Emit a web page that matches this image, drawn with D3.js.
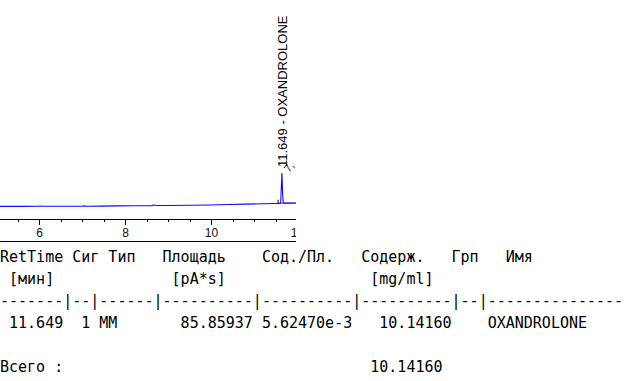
<!DOCTYPE html>
<html>
<head>
<meta charset="utf-8">
<script src="https://cdn.jsdelivr.net/npm/d3@7"></script>
<style>
  body { margin: 0; background: #fff; }
  svg { display: block; }
  .tbl { font-family: "DejaVu Sans Mono", monospace; font-size: 15px; white-space: pre; fill: #000; }
  .axis text { font-family: "Liberation Sans", Arial, sans-serif; font-size: 12px; fill: #111; }
</style>
</head>
<body>
<div class="chart"></div>
<script>
// chromatogram trace (time in min, signal in pA)
var times   = [5.0, 5.6, 5.98, 6.02, 6.06, 6.5, 7.02, 7.06, 7.1, 7.5, 7.8, 8.2, 8.62, 8.67, 8.72, 9.0, 9.5, 10.0, 10.4, 10.8, 11.2, 11.5, 11.6, 11.62, 11.635, 11.649, 11.665, 11.68, 11.75, 11.9, 12.0];
var signal  = [5.75, 5.76, 5.8, 5.95, 5.8, 5.8, 5.85, 6.0, 5.85, 5.9, 6.0, 6.05, 6.1, 6.4, 6.15, 6.15, 6.25, 6.4, 6.6, 6.8, 6.95, 7.1, 7.15, 7.3, 14.0, 21.0, 12.0, 7.3, 7.25, 7.3, 7.3];

// integration baseline of the peak
var baseStart = 11.56;
var baseEnd = 12.1;
var baseLevel = 7.2;

// axis ticks
var majorTicks = [6, 8, 10, 12];
var minorTicks = [5.5, 6.5, 7, 7.5, 8.5, 9, 9.5, 10.5, 11, 11.5];

// peak report
var peakLabel = "11.649 - OXANDROLONE";
var headerLines = [
  "RetTime Сиг Тип   Площадь    Сод./Пл.   Содерж.   Грп   Имя",
  " [мин]             [pA*s]                [mg/ml]"
];
var colWidths = [7, 2, 6, 10, 10, 10, 2, 15];
var retTime = ["11.649"];
var sig = ["1"];
var peakType = ["MM"];
var area = ["85.85937"];
var amtPerArea = ["5.62470e-3"];
var amount = ["10.14160"];
var grp = [""];
var names = ["OXANDROLONE"];
var totalLabel = "Всего :";
var totalAmount = "10.14160";

var svgWidth = 640;
var svgHeight = 381;

var svg = d3.select(".chart")
  .append("svg")
  .attr("width", svgWidth)
  .attr("height", svgHeight);

var axisY = 219;
var plotRight = 296;

var x = d3.scaleLinear().domain([5, 12]).range([-4, 297]);
var y = d3.scaleLinear().domain([0, 100]).range([axisY, 0]);

svg.append("clipPath").attr("id", "plotClip")
  .append("rect")
  .attr("x", 0).attr("y", 0)
  .attr("width", plotRight).attr("height", 245);

var plot = svg.append("g").attr("clip-path", "url(#plotClip)");

var trace = times.map(function (t, i) { return { t: t, v: signal[i] }; });

var line = d3.line()
  .x(function (d) { return x(d.t); })
  .y(function (d) { return y(d.v); });

// baseline (magenta) and start marker
plot.append("line")
  .attr("x1", x(baseStart)).attr("x2", x(baseEnd))
  .attr("y1", y(baseLevel)).attr("y2", y(baseLevel))
  .attr("stroke", "#ff00ff")
  .attr("stroke-width", 1);

plot.append("line")
  .attr("x1", x(baseStart)).attr("x2", x(baseStart))
  .attr("y1", y(baseLevel)).attr("y2", y(baseLevel + 1.6))
  .attr("stroke", "#000")
  .attr("stroke-width", 1);

plot.append("path")
  .datum(trace)
  .attr("fill", "none")
  .attr("stroke", "#0a0aff")
  .attr("stroke-width", 1.1)
  .attr("d", line);

// peak label
plot.append("text")
  .attr("transform", "translate(" + (x(11.649) + 5.5) + "," + (y(21.0) - 6) + ") rotate(-90)")
  .attr("font-family", "Liberation Sans, Arial, sans-serif")
  .attr("font-size", 13)
  .attr("fill", "#000")
  .text(peakLabel);

plot.append("text")
  .attr("transform", "translate(" + (x(11.649) + 7) + "," + (y(21.0) + 0) + ") rotate(-50)")
  .attr("font-family", "Liberation Sans, Arial, sans-serif")
  .attr("font-size", 11)
  .attr("fill", "#111")
  .text("7,");

// x axis
var axisG = plot.append("g")
  .attr("class", "axis")
  .attr("transform", "translate(0," + axisY + ")");

axisG.append("g")
  .call(d3.axisBottom(x).tickValues(minorTicks).tickSize(3).tickFormat(""))
  .call(function (g) { g.select(".domain").remove(); });

axisG.append("g")
  .call(d3.axisBottom(x).tickValues(majorTicks).tickSize(6).tickPadding(3).tickFormat(d3.format("d")))
  .call(function (g) { g.select(".domain").remove(); });

axisG.selectAll("line").attr("stroke", "#000").attr("shape-rendering", "crispEdges");

svg.append("line")
  .attr("x1", 0).attr("x2", plotRight)
  .attr("y1", axisY + 0.5).attr("y2", axisY + 0.5)
  .attr("stroke", "#000");

svg.append("line")
  .attr("x1", 0).attr("x2", plotRight)
  .attr("y1", 241.5).attr("y2", 241.5)
  .attr("stroke", "#000");

// report table
var dashRow = colWidths.map(function (w) { return "-".repeat(w); }).join("|");

var dataRows = retTime.map(function (r, i) {
  var cells = [
    r.padStart(colWidths[0]),
    sig[i].padStart(colWidths[1]),
    peakType[i].padEnd(colWidths[2]),
    area[i].padStart(colWidths[3]),
    amtPerArea[i].padStart(colWidths[4]),
    amount[i].padStart(colWidths[5]),
    grp[i].padEnd(colWidths[6]),
    names[i].padEnd(colWidths[7])
  ];
  return cells.join(" ");
});

var totalRow = totalLabel.padEnd(41) + totalAmount;

var tableLines = headerLines.concat([dashRow], dataRows, [""], [totalRow]);

var lineHeight = 22;
var firstBaseline = 262;

svg.selectAll("text.tbl")
  .data(tableLines)
  .enter()
  .append("text")
  .attr("class", "tbl")
  .attr("x", 0)
  .attr("y", function (d, i) { return firstBaseline + i * lineHeight; })
  .text(function (d) { return d; });
</script>
</body>
</html>
